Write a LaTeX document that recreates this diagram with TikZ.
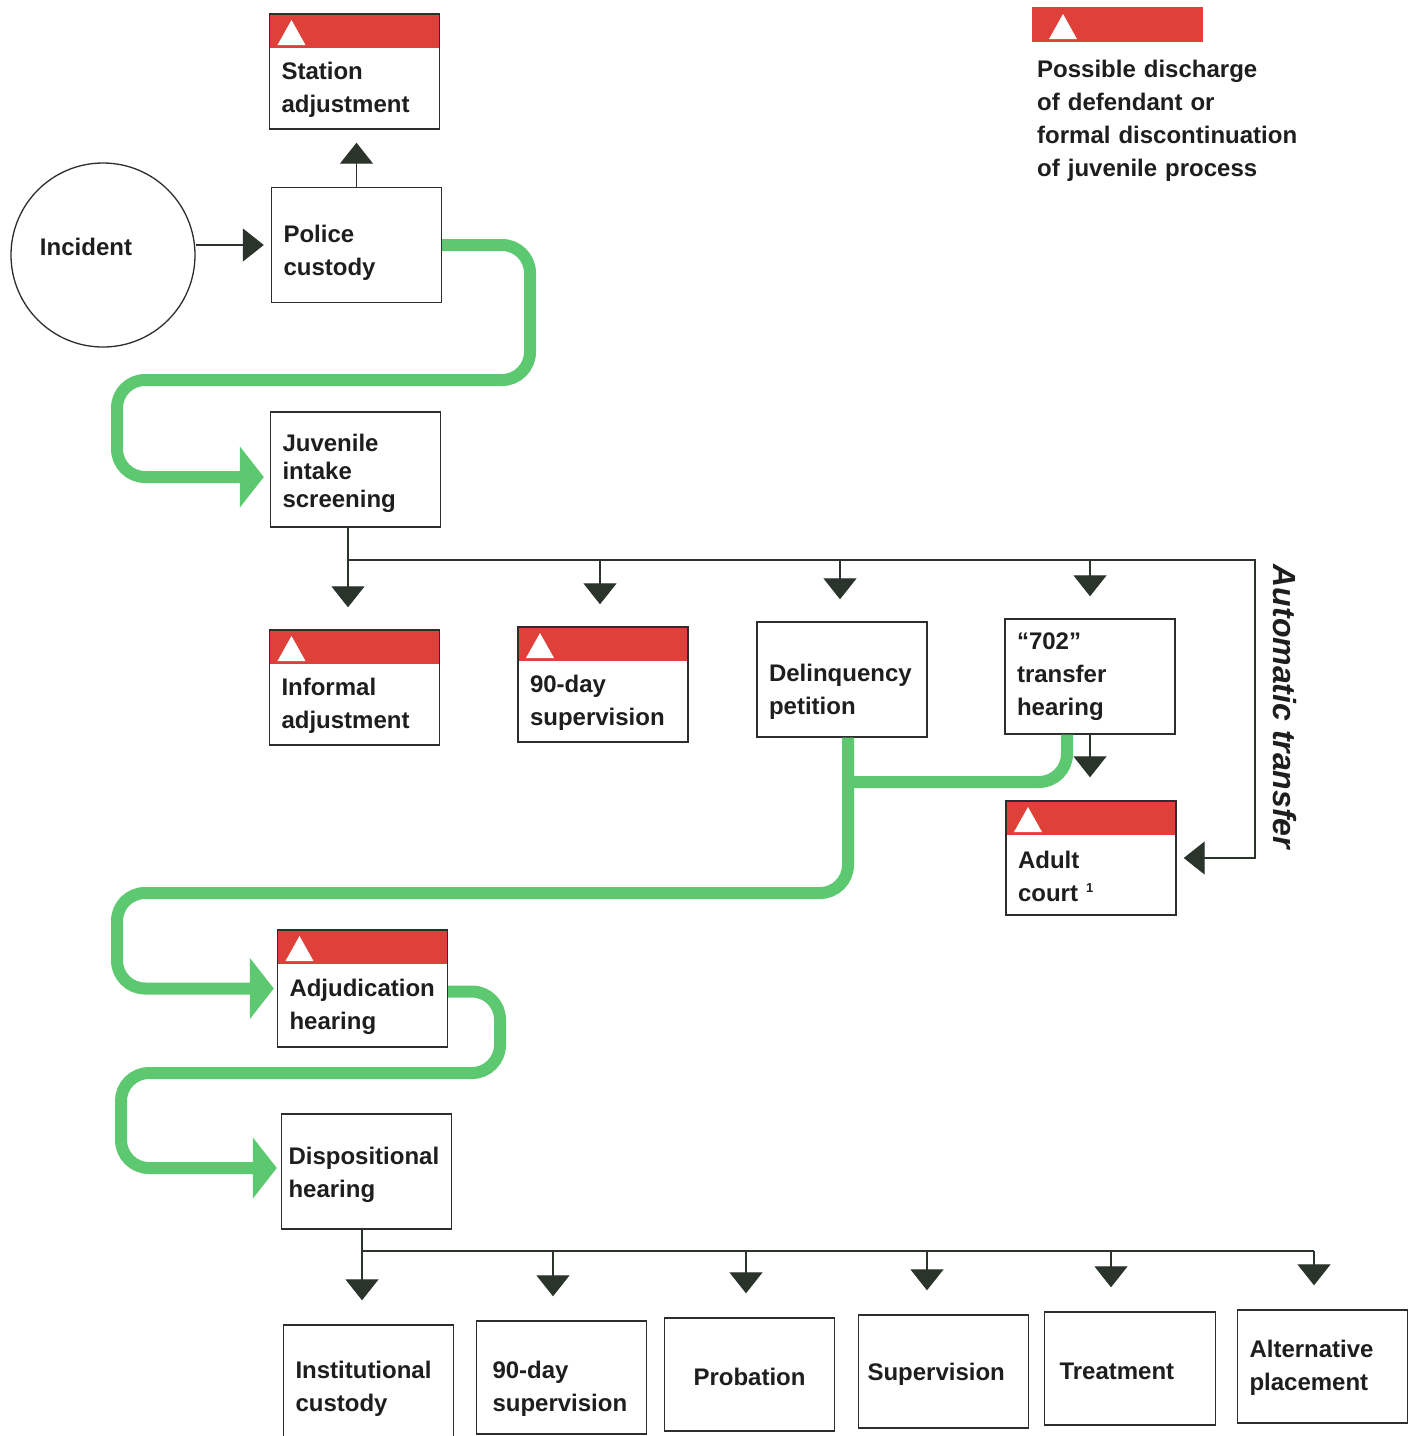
\documentclass[tikz,border=0pt]{standalone}
\usepackage{fontspec}
\setmainfont{Liberation Sans}
\usetikzlibrary{arrows.meta,calc}
\definecolor{grn}{RGB}{92,200,112}
\definecolor{wred}{RGB}{224,64,58}
\definecolor{dk}{RGB}{42,52,42}
\definecolor{ink}{RGB}{30,30,30}
\definecolor{edge}{RGB}{45,45,45}
\newcommand\lift[1]{\rule{0pt}{#1}}
\begin{document}
\begin{tikzpicture}[x=1pt,y=-1pt,
  every node/.style={font=\bfseries\fontsize{24}{33}\selectfont, text=ink},
  box/.style={draw=edge, line width=1.4pt, minimum width=170pt, text width=146pt,
    inner xsep=12pt, inner ysep=0pt, align=left, minimum height=115pt},
  down/.style={execute at begin node={\lift{#1}}},
  warntri/.style={fill=white},
  warn/.style={box, down=54pt,
    path picture={
      \fill[wred] (path picture bounding box.north west) rectangle ([yshift=-34pt]path picture bounding box.north east);
      \fill[warntri] ([shift={(8pt,-31pt)}]path picture bounding box.north west) -- ++(28pt,0pt) -- ++(-14pt,25pt) -- cycle;}},
  conn/.style={draw=dk, line width=1.3pt},
  arr/.style={conn, -{Triangle[length=21pt,width=33pt]}},
  garr/.style={draw=grn, line width=12pt, rounded corners=28pt, -{Triangle[length=24pt,width=60pt]}},
  gline/.style={draw=grn, line width=12pt, rounded corners=28pt},
]
\useasboundingbox (0,0) rectangle (1413,1436);
\fill[white] (0,0) rectangle (1413,1436);

% legend
\node[fill=wred, minimum width=171pt, minimum height=35pt, inner sep=0pt,
  path picture={\fill[warntri] ([shift={(17pt,-32pt)}]path picture bounding box.north west) -- ++(28pt,0pt) -- ++(-14pt,25pt) -- cycle;}] (leg) at (1117.5,24.5) {};
\node[anchor=north west, inner sep=0pt, text width=300pt, align=left] (legt) at (1037,60)
  {Possible discharge\\of defendant or\\formal discontinuation\\of juvenile process};

% nodes
\node[draw=edge, line width=1.3pt, circle, minimum size=184pt, inner sep=0pt] (inc) at (103,255)
  {\raisebox{16pt}{Incident}\hspace*{34pt}};
\node[warn] (sta) at (354.5,71.5) {Station\\adjustment};
\node[box, down=33pt] (pol) at (356.5,245) {Police\\custody};
\node[box, down=25pt, font=\bfseries\fontsize{24}{28}\selectfont] (jis) at (355.5,469.5) {Juvenile\\intake\\screening};
\node[warn] (inf) at (354.5,687.5) {Informal\\adjustment};
\node[warn] (sv1) at (603,684.5) {90-day\\supervision};
\node[box, down=41pt] (del) at (842,679.5) {Delinquency\\petition};
\node[box] (tfh) at (1090,676.5) {“702”\\transfer\\hearing};
\node[warn, minimum height=114pt] (adu) at (1091,858) {Adult\\court \raisebox{9pt}{\fontsize{13}{13}\selectfont 1}};
\node[warn, minimum height=117pt] (adj) at (362.5,988.5) {Adjudication\\hearing};
\node[box, down=25pt, inner xsep=7pt, text width=156pt] (dis) at (366.5,1171.5) {Dispositional\\hearing};
\node[box, down=29pt] (ins) at (368.5,1382.5) {Institutional\\custody};
\node[box, down=39pt, minimum height=113pt, inner xsep=16pt, text width=138pt] (sv2) at (561.5,1377.5) {90-day\\supervision};
\node[box, down=23pt, minimum height=113pt, align=center] (pro) at (749.5,1374.5) {Probation};
\node[box, down=23pt, minimum height=113pt, inner xsep=9pt, text width=152pt] (sup) at (943.5,1371.5) {Supervision};
\node[box, down=22pt, minimum height=113pt, inner xsep=15pt, text width=141pt] (tre) at (1130,1368.5) {Treatment};
\node[box, down=20pt, minimum height=113pt] (alt) at (1322.5,1366.5) {Alternative\\placement};
\node[rotate=-90, inner sep=0pt, font=\bfseries\itshape\fontsize{32}{32}\selectfont] (aut) at (1285,707) {Automatic transfer};

% thin connectors
\draw[arr, shorten >=13pt] (pol.north) -- (pol.north |- sta.south);
\draw[arr, shorten >=7pt] (pol.west -| inc.east) -- (pol.west);

\coordinate (ja) at (348,560);
\coordinate (jb) at (600,560);
\coordinate (jc) at (840,560);
\coordinate (jd) at (1090,560);
\coordinate (je) at (1255,560);
\draw[arr, shorten >=7pt] (jis.south -| ja) -- (ja) -- (je) -- (je |- adu.east) -- (adu.east);
\foreach \c/\n in {ja/inf, jb/sv1, jc/del, jd/tfh}
  \draw[arr, shorten >=22pt] (\c) -- (\c |- \n.north);
\draw[arr, shorten >=23pt] (tfh.south) -- (tfh.south |- adu.north);

\coordinate (ka) at (362,1251);
\coordinate (kb) at (553,1251);
\coordinate (kc) at (746,1251);
\coordinate (kd) at (927,1251);
\coordinate (ke) at (1111,1251);
\coordinate (kf) at (1314,1251);
\draw[conn] (dis.south -| ka) -- (ka) -- (kf);
\foreach \c/\n in {ka/ins, kb/sv2, kc/pro, kd/sup, ke/tre, kf/alt}
  \draw[arr, shorten >=24pt] (\c) -- (\c |- \n.north);

% green flow
\draw[garr, shorten >=6pt] (pol.east) -- (530,245) -- (530,380) -- (117,380) -- (117,477) -- (jis.west |- 0,477);
\draw[gline] ([xshift=-23pt]tfh.south) -- (1067,782) -- (848,782);
\draw[garr, shorten >=3pt] ([xshift=6pt]del.south) -- (848,893) -- (117,893) -- (117,988.5) -- (adj.west);
\draw[garr, shorten >=4pt] ([yshift=-3pt]adj.east) -- (500,991.5) -- (500,1073) -- (121,1073) -- (121,1168) -- (dis.west |- 0,1168);
\end{tikzpicture}
\end{document}
